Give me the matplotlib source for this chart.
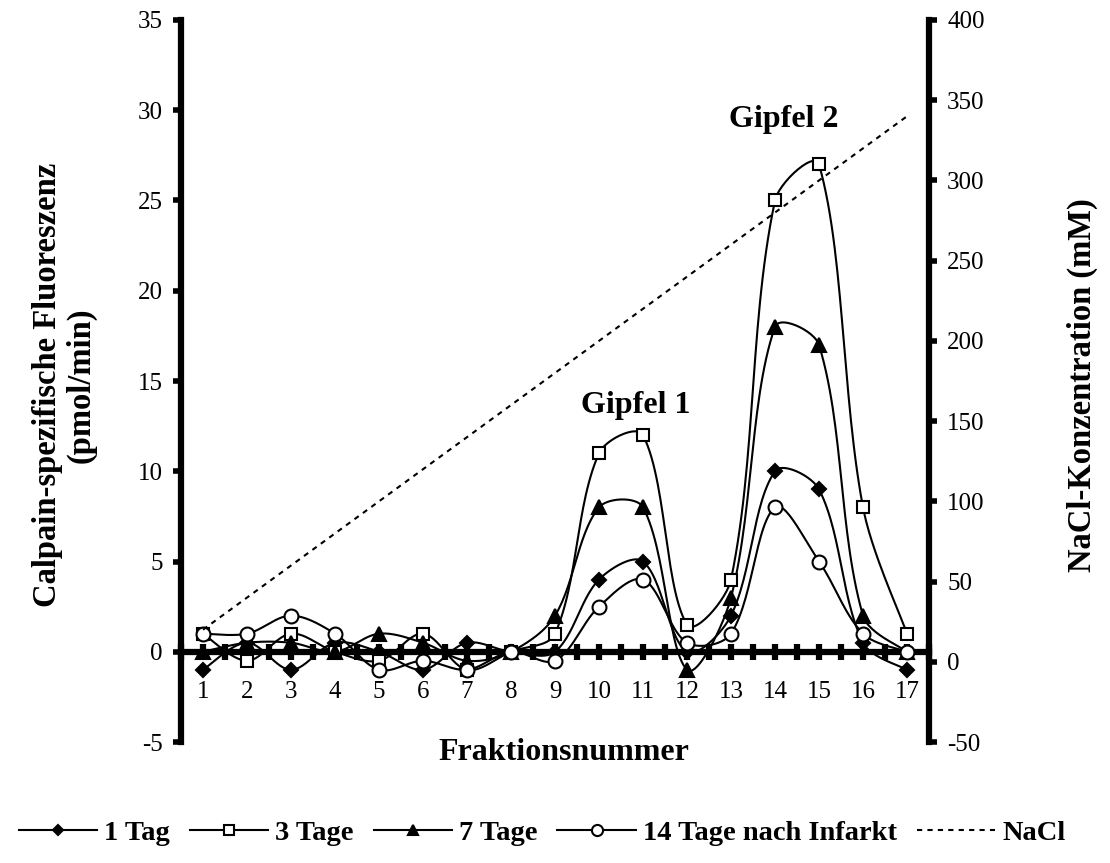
import numpy as np
import matplotlib.pyplot as plt
from matplotlib.lines import Line2D

plt.rcParams['font.family'] = ['Liberation Serif', 'DejaVu Serif']
plt.rcParams['axes.unicode_minus'] = False

# Werte
fraktion = np.arange(1, 18)
tag1 = [-1, 0.5, -1, 0.5, 0, -1, 0.5, 0, 0, 4, 5, 0, 2, 10, 9, 0.5, -1]
tage3 = [1, -0.5, 1, 0, -0.5, 1, -1, 0, 1, 11, 12, 1.5, 4, 25, 27, 8, 1]
tage7 = [0, 0.5, 0.5, 0, 1, 0.5, -0.5, 0, 2, 8, 8, -1, 3, 18, 17, 2, 0]
tage14 = [1, 1, 2, 1, -1, -0.5, -1, 0, -0.5, 2.5, 4, 0.5, 1, 8, 5, 1, 0]
nacl = [20, 40, 60, 80, 100, 120, 140, 160, 180, 200, 220, 240, 260, 280, 300, 320, 340]
labels = ['1 Tag', '3 Tage', '7 Tage', '14 Tage nach Infarkt', 'NaCl']


def smooth(ax, x, y, n=30):
    # Bezier-Glaettung aehnlich Excel, in Pixelkoordinaten
    P = ax.transData.transform(np.column_stack([x, y]))
    m = len(P)
    cout = np.zeros_like(P)
    cin = np.zeros_like(P)
    for i in range(m):
        if i == 0:
            cout[i] = P[0] + (P[1] - P[0]) / 6
            continue
        if i == m - 1:
            cin[i] = P[i] - (P[i] - P[i - 1]) / 6
            continue
        T = P[i + 1] - P[i - 1]
        d1 = np.hypot(*(P[i] - P[i - 1]))
        d2 = np.hypot(*(P[i + 1] - P[i]))
        cin[i] = P[i] - T * d1 / (d1 + d2) / 3
        cout[i] = P[i] + T * d2 / (d1 + d2) / 3
    t = np.linspace(0, 1, n)[:, None]
    pts = []
    for i in range(m - 1):
        b = ((1 - t) ** 3) * P[i] + 3 * ((1 - t) ** 2) * t * cout[i] \
            + 3 * (1 - t) * t ** 2 * cin[i + 1] + t ** 3 * P[i + 1]
        pts.append(b)
    pts = ax.transData.inverted().transform(np.vstack(pts))
    return pts[:, 0], pts[:, 1]


fig = plt.figure(figsize=(11.1, 8.63), dpi=100)
ax = fig.add_axes([181 / 1110, 121 / 863, 748 / 1110, 722 / 863])
ax2 = ax.twinx()

ax.set_xlim(0.5, 17.5)
ax.set_ylim(-5, 35)
ax2.set_ylim(-50, 400)

series = [
    (tag1, 'D', 'black', 7),
    (tage3, 's', 'white', 9),
    (tage7, '^', 'black', 9.5),
    (tage14, 'o', 'white', 10),
]
handles = []
for vals, m, fc, ms in series:
    sx, sy = smooth(ax, fraktion, vals)
    ax.plot(sx, sy, color='black', lw=1.5, zorder=2)
    ax.plot(fraktion, vals, ls='none', marker=m, ms=ms, mfc=fc, mec='black', mew=1.5, zorder=3)
    handles.append(Line2D([], [], color='black', lw=1.5, marker=m, ms=ms * 0.8,
                          mfc=fc, mec='black', mew=1.5))

ax2.plot(fraktion, nacl, color='black', lw=1.5, ls=(0, (2.5, 2.5)))
handles.append(Line2D([], [], color='black', lw=1.5, ls=(0, (2.5, 2.5))))

ax.set_yticks(np.arange(-5, 36, 5))
ax2.set_yticks(np.arange(-50, 401, 50))
ax.set_xticks(fraktion)
ax.set_xticks(np.arange(0.5, 17.6, 1), minor=True)

for s in ['top', 'right']:
    ax.spines[s].set_visible(False)
for s in ['top', 'left', 'bottom']:
    ax2.spines[s].set_visible(False)
ax.spines['bottom'].set_position(('data', 0))
ax.spines['bottom'].set_linewidth(4.5)
ax.spines['left'].set_linewidth(4.5)
ax2.spines['right'].set_linewidth(4.5)

ax.tick_params(axis='y', direction='out', length=6, width=4, labelsize=18, pad=7)
ax2.tick_params(axis='y', direction='out', length=6, width=4, labelsize=18, pad=7)
ax.tick_params(axis='x', which='both', direction='inout', length=12, width=4.5,
               labelsize=18, pad=15)

fig.text(64 / 1110, 0.554, 'Calpain-spezifische Fluoreszenz\n(pmol/min)', rotation=90,
         ha='center', va='center', fontsize=23.5, fontweight='bold', linespacing=1.1)
fig.text(1082 / 1110, 0.554, 'NaCl-Konzentration (mM)', rotation=90,
         ha='center', va='center', fontsize=23.5, fontweight='bold')
fig.text(564 / 1110, (863 - 752) / 863, 'Fraktionsnummer', ha='center', va='center',
         fontsize=23, fontweight='bold')
fig.text(636 / 1110, (863 - 405) / 863, 'Gipfel 1', ha='center', va='center',
         fontsize=23, fontweight='bold')
fig.text(784 / 1110, (863 - 120) / 863, 'Gipfel 2', ha='center', va='center',
         fontsize=23, fontweight='bold')

fig.legend(handles, labels, loc='center', bbox_to_anchor=(542 / 1110, (863 - 833) / 863),
           ncol=5, frameon=False, prop={'weight': 'bold', 'size': 20.5}, handlelength=2.75,
           handletextpad=0.25, columnspacing=0.7, numpoints=1, borderpad=0, borderaxespad=0)

fig.savefig('out.png', dpi=100)
